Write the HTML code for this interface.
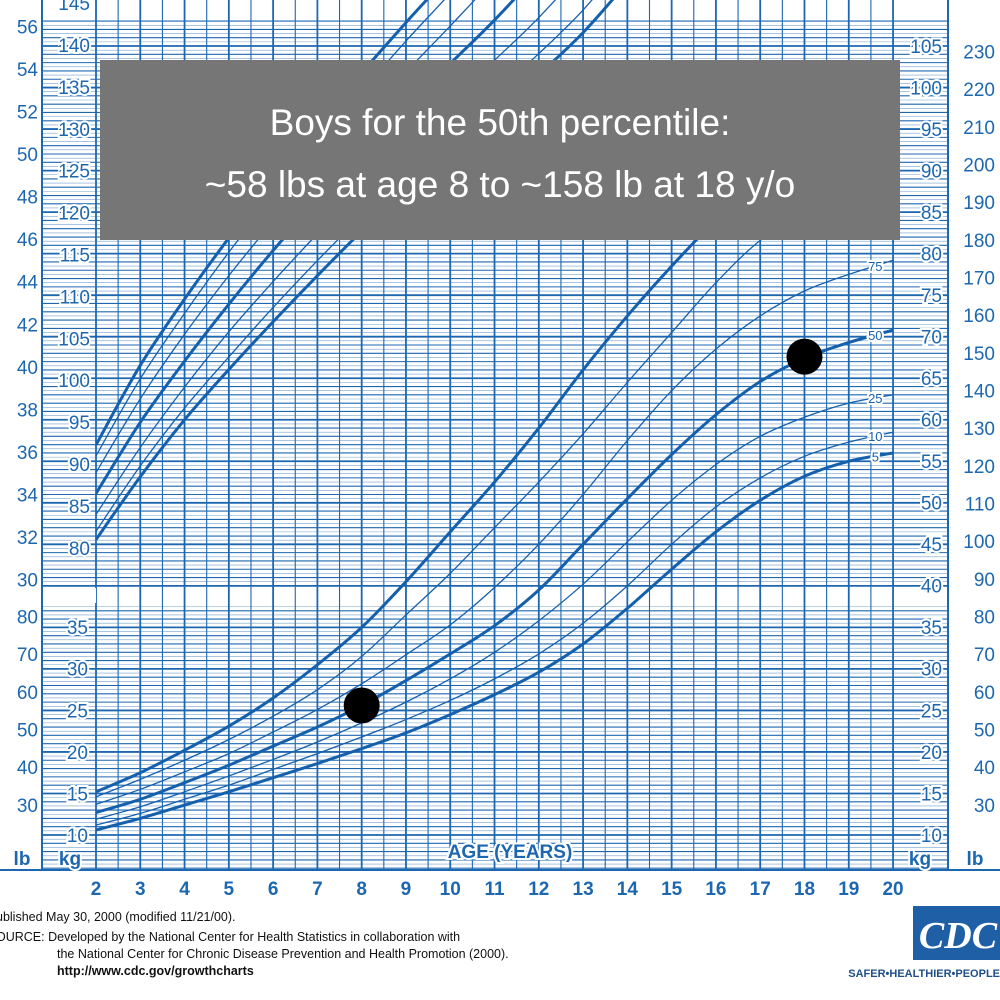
<!DOCTYPE html>
<html><head><meta charset="utf-8"><style>
html,body{margin:0;padding:0;background:#fff;}
svg{display:block;font-family:"Liberation Sans",sans-serif;}
</style></head><body>
<svg id="chart" width="1000" height="1000" viewBox="0 0 1000 1000" xmlns="http://www.w3.org/2000/svg">
<rect width="1000" height="1000" fill="#fff"/>
<g id="grid"></g>
<g id="axes"></g>
<g id="curves"></g>
<g id="labels"></g>
<g>
<rect x="100" y="60" width="800" height="180" fill="#767676"/>
<text x="500" y="135" text-anchor="middle" fill="#fff" font-size="37" font-weight="300">Boys for the 50th percentile:</text>
<text x="500" y="197" text-anchor="middle" fill="#fff" font-size="37" font-weight="300">~58 lbs at age 8 to ~158 lb at 18 y/o</text>
</g>
<g id="dots"></g>
<g fill="#111" font-size="12.5">
<text x="-4" y="921">ublished May 30, 2000 (modified 11/21/00).</text>
<text x="-4" y="941">OURCE: Developed by the National Center for Health Statistics in collaboration with</text>
<text x="57" y="958">the National Center for Chronic Disease Prevention and Health Promotion (2000).</text>
<text x="57" y="975" font-weight="bold">http://www.cdc.gov/growthcharts</text>
</g>
<g>
<rect x="913" y="906" width="87" height="54" fill="#1f5fa6"/>
<text x="958" y="948" text-anchor="middle" fill="#fff" font-family="Liberation Serif,serif" font-style="italic" font-weight="bold" font-size="38">CDC</text>
<text x="1000" y="977" text-anchor="end" fill="#1f4f8a" font-weight="bold" font-size="11">SAFER•HEALTHIER•PEOPLE</text>
</g>
</svg>
<script>
const ages = [2,3,4,5,6,7,8,9,10,11,12,13,14,15,16,17,18,19,20];
const weightPercentiles = ["5","10","25","50","75","90","95"];
const w5  = [10.6,12.0,13.6,15.2,16.9,18.6,20.4,22.3,24.5,26.9,29.6,33.0,37.3,42.0,46.5,50.3,53.2,55.0,56.0];
const w10 = [11.2,12.6,14.3,16.0,17.9,19.8,21.8,23.9,26.2,28.8,31.8,35.5,40.0,45.0,49.5,53.0,55.6,57.3,58.5];
const w25 = [11.9,13.4,15.2,17.1,19.1,21.2,23.5,26.0,28.8,32.0,35.8,40.2,45.3,50.3,54.6,58.0,60.3,62.0,63.0];
const w50 = [12.7,14.3,16.3,18.4,20.7,23.0,25.6,28.6,31.8,35.2,39.5,45.0,50.5,55.8,60.6,64.6,67.4,69.3,70.8];
const w75 = [13.7,15.5,17.6,19.8,22.4,25.1,28.2,31.7,35.3,39.8,45.0,51.0,57.5,63.5,68.5,72.5,75.5,77.5,79.2];
const w90 = [14.6,16.7,19.0,21.5,24.3,27.5,31.5,36.5,41.5,47.0,52.5,58.3,64.5,70.5,76.5,81.6,85.0,88.0,90.0];
const w95 = [15.2,17.5,20.2,23.1,26.5,30.5,35.0,40.5,46.5,52.5,59.0,66.0,72.5,78.5,84.0,88.5,92.0,95.0,97.0];
const statureAges = [2,3,4,5,6,7,8,9,10,11,12,13,14];
const s5  = [81.0,88.5,95.3,101.3,107.0,112.5,117.8,122.8,127.5,132.0,136.5,141.5,147.5];
const s10 = [82.0,89.8,96.7,102.8,108.7,114.3,119.6,124.7,129.5,134.2,139.0,144.2,150.5];
const s25 = [84.0,92.0,99.2,105.8,111.8,117.5,123.0,128.3,133.2,138.2,143.3,149.2,156.0];
const s50 = [86.5,95.0,102.3,109.1,115.5,121.5,127.0,132.5,137.8,143.0,148.8,155.5,162.0];
const s75 = [89.0,97.8,105.5,112.5,119.0,125.3,131.0,136.8,142.3,148.0,154.3,161.5,168.0];
const s90 = [91.0,100.2,108.0,115.3,122.0,128.5,134.5,140.5,146.2,152.2,158.8,166.0,172.0];
const s95 = [92.3,101.8,109.7,117.0,123.8,130.5,136.7,142.7,148.5,154.7,161.3,168.5,174.0];
const xTicks = [2,3,4,5,6,7,8,9,10,11,12,13,14,15,16,17,18,19,20];
const kgLeftTicks = [10,15,20,25,30,35];
const cmLeftTicks = [80,85,90,95,100,105,110,115,120,125,130,135,140,145];
const kgRightTicks = [10,15,20,25,30,35,40,45,50,55,60,65,70,75,80,85,90,95,100,105];
const lbRightTicks = [30,40,50,60,70,80,90,100,110,120,130,140,150,160,170,180,190,200,210,220,230];
const lbLeftTicks = [30,40,50,60,70,80];
const inLeftTicks = [30,32,34,36,38,40,42,44,46,48,50,52,54,56];
const dotAges = [8,18];
const dotWeights = [25.6,67.6];

const NS="http://www.w3.org/2000/svg";
const BLUE="#1d67b1";
const x = a => 96 + (a-2)*44.28;
const yk = k => 835 - (k-10)*8.305;
const ys = c => 548 - (c-80)*8.38;
function mk(tag, attrs, parent){const e=document.createElementNS(NS,tag);for(const k in attrs)e.setAttribute(k,attrs[k]);parent.appendChild(e);return e;}
const grid=document.getElementById('grid'), axes=document.getElementById('axes'), curves=document.getElementById('curves'), labels=document.getElementById('labels'), dots=document.getElementById('dots');

for(let k=4;k<=108;k+=0.5){
  const y=yk(k); if(y<0||y>870) continue;
  if(y>586&&y<605) continue;
  const major=(k%5===0), whole=(k%1===0);
  const l=mk('line',{x1:42,x2:948,y1:y,y2:y,stroke:BLUE,'stroke-width':major?1.8:(whole?1.1:0.6),opacity:whole?1:0.6},grid);
  
  
}
for(let a=2;a<=20.01;a+=0.5){
  const l=mk('line',{x1:x(a),x2:x(a),y1:0,y2:870,stroke:BLUE,'stroke-width':(a%1===0)?1.8:1.1},grid);
  
  
}
const gap=mk('rect',{x:0,y:588,width:96,height:15,fill:'#fff'},axes);


const lf=mk('line',{x1:42,x2:42,y1:0,y2:870,stroke:BLUE,'stroke-width':2},axes);


const rf=mk('line',{x1:948,x2:948,y1:0,y2:870,stroke:BLUE,'stroke-width':2},axes);


const bf=mk('line',{x1:0,x2:1000,y1:870,y2:870,stroke:BLUE,'stroke-width':2},axes);


const ws=mk('rect',{x:0,y:871,width:1000,height:129,fill:'#fff'},axes);



function label(txt,xx,y,anchor,size,bold,name){
  const t=mk('text',{x:xx,y:y+size*0.36,'text-anchor':anchor,'font-size':size,fill:BLUE,'font-weight':bold?'bold':'normal',stroke:'#fff','stroke-width':4,'paint-order':'stroke'},axes);
  t.textContent=txt;
  
  
}
kgLeftTicks.forEach(v=>label(String(v),88,yk(v),'end',19,false,'left-kg-tick'));
cmLeftTicks.forEach(v=>label(String(v),90,ys(v),'end',19,false,'left-cm-tick'));
kgRightTicks.forEach(v=>label(String(v),942,yk(v),'end',19,false,'right-kg-tick'));
lbRightTicks.forEach(v=>label(String(v),995,yk(v/2.2046),'end',19,false,'right-lb-tick'));
lbLeftTicks.forEach(v=>label(String(v),38,yk(v/2.2046),'end',19,false,'left-lb-tick'));
inLeftTicks.forEach(v=>label(String(v),38,ys(v*2.54),'end',19,false,'left-in-tick'));
xTicks.forEach(v=>label(String(v),x(v),888,'middle',19,true,'age-tick'));
label('lb',22,858,'middle',19,true,'left-lb-unit');
label('kg',70,858,'middle',19,true,'left-kg-unit');
label('kg',920,858,'middle',19,true,'right-kg-unit');
label('lb',975,858,'middle',19,true,'right-lb-unit');
label('AGE (YEARS)',510,851,'middle',19,true,'x-axis-title');

function pathFrom(pts){
  let d='M'+pts[0][0]+','+pts[0][1];
  for(let i=0;i<pts.length-1;i++){
    const p0=pts[Math.max(0,i-1)],p1=pts[i],p2=pts[i+1],p3=pts[Math.min(pts.length-1,i+2)];
    d+=' C'+(p1[0]+(p2[0]-p0[0])/6)+','+(p1[1]+(p2[1]-p0[1])/6)+' '+(p2[0]-(p3[0]-p1[0])/6)+','+(p2[1]-(p3[1]-p1[1])/6)+' '+p2[0]+','+p2[1];
  }
  return d;
}
const cp=mk('clipPath',{id:'plotclip'},curves);
mk('rect',{x:96,y:0,width:798,height:870},cp);
const wSeries=[w5,w10,w25,w50,w75,w90,w95];
const sSeries=[s5,s10,s25,s50,s75,s90,s95];
wSeries.forEach((s,i)=>{
  const thick=(i===0||i===3||i===6);
  const p=mk('path',{d:pathFrom(ages.map((a,j)=>[x(a),yk(s[j])])),fill:'none',stroke:'#1560ad','stroke-width':thick?3:1.3,'clip-path':'url(#plotclip)'},curves);
  
  
});
sSeries.forEach((s,i)=>{
  const thick=(i===0||i===3||i===6);
  const p=mk('path',{d:pathFrom(statureAges.map((a,j)=>[x(a),ys(s[j])])),fill:'none',stroke:'#1560ad','stroke-width':thick?3:1.3,'clip-path':'url(#plotclip)'},curves);
  
  
});
[0,1,2,3,4].forEach(i=>{
  const s=wSeries[i]; const v=s[17]+(s[18]-s[17])*0.6;
  const t=mk('text',{x:x(19.6),y:yk(v)+5,'text-anchor':'middle','font-size':13,fill:'#1560ad',stroke:'#fff','stroke-width':4,'paint-order':'stroke'},labels);
  t.textContent=weightPercentiles[i];
  
  
});
dotAges.forEach((a,i)=>{
  const c=mk('circle',{cx:x(a),cy:yk(dotWeights[i]),r:18,fill:'#000'},dots);
  
  
});
</script>
</body></html>
